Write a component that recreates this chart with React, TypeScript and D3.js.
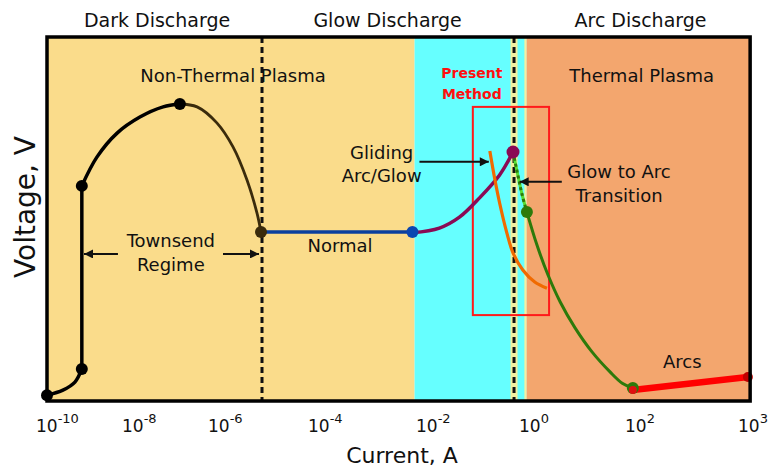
import React from "react";
import * as d3 from "d3";

// ---- axis definition (exponent of current -> tick labels) ----
const tickExps = [-10, -8, -6, -4, -2, 0, 2, 3];
const tickPx = [47, 133, 219, 319, 427, 530, 636, 749];

// ---- region boundaries (log10 current) ----
const regionBounds = [-10, -2.23, -0.07, 3.01];
const regionColors = ["#FADC8B", "#66FFFF", "#F3A66E"];
const dischargeLabels = ["Dark Discharge", "Glow Discharge", "Arc Discharge"];
const dischargeLabelX = [-7.44, -2.73, 2.04];
const dashedLinesX = [-5.14, -0.31];

// ---- curves (x = log10 current, y = voltage, arbitrary units) ----
const darkLowX = [-10, -9.63, -9.35, -9.19];
const darkLowY = [1.6, 3.0, 5.2, 8.8];
const darkVertX = [-9.19, -9.19];
const darkVertY = [8.8, 59.1];
const darkRiseX = [-9.19, -8.84, -8.37, -7.84, -7.3, -6.91];
const darkRiseY = [59.1, 67.0, 73.6, 78.0, 80.8, 81.6];
const darkFallX = [-6.91, -6.51, -6.05, -5.72, -5.44, -5.24, -5.16];
const darkFallY = [81.6, 80.8, 76.4, 69.8, 60.7, 51.6, 46.4];
const normalX = [-5.16, -2.27];
const normalY = [46.4, 46.4];
const glidingX = [-2.27, -1.76, -1.37, -0.98, -0.59, -0.33];
const glidingY = [46.2, 47.5, 50.5, 55.8, 62.1, 68.4];
const presentX = [-0.78, -0.68, -0.59, -0.45, -0.33, -0.14, 0.09, 0.32];
const presentY = [68.7, 60.7, 54.4, 46.2, 40.7, 36.0, 32.7, 31.0];
const transitionX = [-0.33, -0.22, -0.15, -0.06];
const transitionY = [68.4, 61.0, 56.5, 51.9];
const arcFallX = [-0.06, 0.13, 0.34, 0.57, 0.85, 1.17, 1.51, 1.74, 1.94];
const arcFallY = [51.9, 42.9, 34.6, 27.2, 20.1, 13.5, 8.0, 4.9, 3.6];
const arcsX = [1.94, 2.99];
const arcsY = [3.0, 6.6];

// ---- points ----
const blackDotsX = [-10, -9.19, -9.19, -6.91];
const blackDotsY = [1.6, 8.8, 59.1, 81.6];

// ---- box around the present method ----
const boxX = [-1.11, 0.36];
const boxY = [23.6, 80.8];

const W = 772;
const H = 470;
const FONT = "'DejaVu Sans', Verdana, sans-serif";

const x = d3.scaleLinear().domain(tickExps).range(tickPx);
const y = d3.scaleLinear().domain([0, 100]).range([401, 37]);

const zip = (xs: number[], ys: number[]) => xs.map((v, i) => [v, ys[i]] as [number, number]);
const smooth = d3
  .line<[number, number]>()
  .x((d) => x(d[0]))
  .y((d) => y(d[1]))
  .curve(d3.curveCatmullRom.alpha(0.5));
const straight = d3
  .line<[number, number]>()
  .x((d) => x(d[0]))
  .y((d) => y(d[1]));

type Ann = { t: string; x: number; y: number; size?: number; color?: string; bold?: boolean };
const annotations: Ann[] = [
  { t: "Non-Thermal Plasma", x: -5.72, y: 87.6 },
  { t: "Thermal Plasma", x: 2.05, y: 87.6 },
  { t: "Present", x: -1.13, y: 88.7, size: 14, color: "#FF1010", bold: true },
  { t: "Method", x: -1.13, y: 83.0, size: 14, color: "#FF1010", bold: true },
  { t: "Gliding", x: -2.84, y: 66.5 },
  { t: "Arc/Glow", x: -2.84, y: 60.2 },
  { t: "Glow to Arc", x: 1.68, y: 61.3 },
  { t: "Transition", x: 1.68, y: 54.7 },
  { t: "Townsend", x: -7.12, y: 42.3 },
  { t: "Regime", x: -7.12, y: 35.7 },
  { t: "Normal", x: -3.61, y: 40.9 },
  { t: "Arcs", x: 2.41, y: 9.1 },
];

const arrows = [
  { x1: -2.14, x2: -0.8, y: 65.7 },
  { x1: 0.6, x2: -0.2, y: 60.2 },
  { x1: -8.35, x2: -9.14, y: 40.4 },
  { x1: -5.92, x2: -5.2, y: 40.4 },
];

export default function App() {
  const left = x(-10);
  const right = x(3.01);
  const top = y(100);
  const bottom = y(0);
  return (
    <svg
      width={W}
      height={H}
      style={{ position: "absolute", left: 0, top: 0, background: "#fff" }}
      fontFamily={FONT}
    >
      <defs>
        <marker id="ah" viewBox="0 0 10 10" refX="10" refY="5" markerWidth="11" markerHeight="9" markerUnits="userSpaceOnUse" orient="auto">
          <path d="M0,0 L10,5 L0,10 z" fill="#111" />
        </marker>
      </defs>
      {/* regions */}
      {regionColors.map((c, i) => (
        <rect
          key={i}
          x={x(regionBounds[i])}
          y={top}
          width={x(regionBounds[i + 1]) - x(regionBounds[i])}
          height={bottom - top}
          fill={c}
        />
      ))}
      <rect x={x(regionBounds[2]) - 2} y={top} width={2} height={bottom - top} fill="#F4F0A0" />
      {/* dashed separators */}
      <line x1={x(dashedLinesX[1])} x2={x(dashedLinesX[1])} y1={top} y2={bottom} stroke="#F2F0A0" strokeWidth={7} />
      {dashedLinesX.map((d, i) => (
        <line key={i} x1={x(d)} x2={x(d)} y1={top} y2={bottom} stroke="#111" strokeWidth={3} strokeDasharray="6,4" />
      ))}
      {/* present method box */}
      <rect
        x={x(boxX[0])}
        y={y(boxY[1])}
        width={x(boxX[1]) - x(boxX[0])}
        height={y(boxY[0]) - y(boxY[1])}
        fill="none"
        stroke="#FF1a1a"
        strokeWidth={2}
      />
      {/* curves */}
      <path d={smooth(zip(darkLowX, darkLowY)) || ""} fill="none" stroke="#000" strokeWidth={3.5} />
      <path d={straight(zip(darkVertX, darkVertY)) || ""} fill="none" stroke="#000" strokeWidth={3.5} />
      <path d={smooth(zip(darkRiseX, darkRiseY)) || ""} fill="none" stroke="#000" strokeWidth={3.5} />
      <path d={smooth(zip(darkFallX, darkFallY)) || ""} fill="none" stroke="#3a2b0c" strokeWidth={2.8} />
      <path d={straight(zip(normalX, normalY)) || ""} fill="none" stroke="#0a3f9e" strokeWidth={3.5} />
      <path d={smooth(zip(glidingX, glidingY)) || ""} fill="none" stroke="#8a0a55" strokeWidth={3.5} />
      <path d={smooth(zip(presentX, presentY)) || ""} fill="none" stroke="#F06A00" strokeWidth={3.2} />
      <path d={smooth(zip(transitionX, transitionY)) || ""} fill="none" stroke="#55dd33" strokeWidth={3} />
      <path d={smooth(zip(transitionX, transitionY)) || ""} fill="none" stroke="#2d7a0a" strokeWidth={3} strokeDasharray="3,3" />
      <path d={smooth(zip(arcFallX, arcFallY)) || ""} fill="none" stroke="#2d7a0a" strokeWidth={3} />
      <path d={straight(zip(arcsX, arcsY)) || ""} fill="none" stroke="#FF0000" strokeWidth={6.5} />
      {/* points */}
      {zip(blackDotsX, blackDotsY).map((p, i) => (
        <circle key={i} cx={x(p[0])} cy={y(p[1])} r={6} fill="#000" />
      ))}
      <circle cx={x(darkFallX[darkFallX.length - 1])} cy={y(darkFallY[darkFallY.length - 1])} r={6} fill="#3a2b0c" />
      <circle cx={x(normalX[1])} cy={y(normalY[1])} r={6} fill="#0a46b0" />
      <circle cx={x(glidingX[glidingX.length - 1])} cy={y(glidingY[glidingY.length - 1])} r={6.5} fill="#8a0a55" />
      <circle cx={x(arcFallX[0])} cy={y(arcFallY[0])} r={6} fill="#2d7a0a" />
      <circle cx={x(arcFallX[arcFallX.length - 1])} cy={y(arcFallY[arcFallY.length - 1])} r={6} fill="#2d7a0a" />
      <circle cx={x(arcsX[0])} cy={y(arcsY[0])} r={4} fill="#e01010" />
      <circle cx={x(arcsX[1])} cy={y(arcsY[1])} r={5} fill="#c00000" />
      {/* arrows */}
      {arrows.map((a, i) => (
        <line key={i} x1={x(a.x1)} x2={x(a.x2)} y1={y(a.y)} y2={y(a.y)} stroke="#111" strokeWidth={2} markerEnd="url(#ah)" />
      ))}
      {/* annotations */}
      {annotations.map((a, i) => (
        <text
          key={i}
          x={x(a.x)}
          y={y(a.y)}
          textAnchor="middle"
          fontSize={a.size ?? 18}
          fill={a.color ?? "#111"}
          fontWeight={a.bold ? "bold" : "normal"}
        >
          {a.t}
        </text>
      ))}
      {/* frame */}
      <rect x={left} y={top} width={right - left} height={bottom - top} fill="none" stroke="#000" strokeWidth={3.5} />
      {/* top discharge labels */}
      {dischargeLabels.map((t, i) => (
        <text key={t} x={x(dischargeLabelX[i])} y={top - 10} textAnchor="middle" fontSize={19} fill="#111">
          {t}
        </text>
      ))}
      {/* x tick labels */}
      {tickExps.map((e) => (
        <text key={e} x={x(e) - 11} y={432} fontSize={17} fill="#111">
          10
          <tspan dy={-9} fontSize={13}>
            {String(e)}
          </tspan>
        </text>
      ))}
      <text x={402} y={463} textAnchor="middle" fontSize={22} fill="#111">
        Current, A
      </text>
      <text transform={`translate(35,${(top + bottom) / 2 - 12}) rotate(-90)`} textAnchor="middle" fontSize={28} fill="#111">
        Voltage, V
      </text>
    </svg>
  );
}
